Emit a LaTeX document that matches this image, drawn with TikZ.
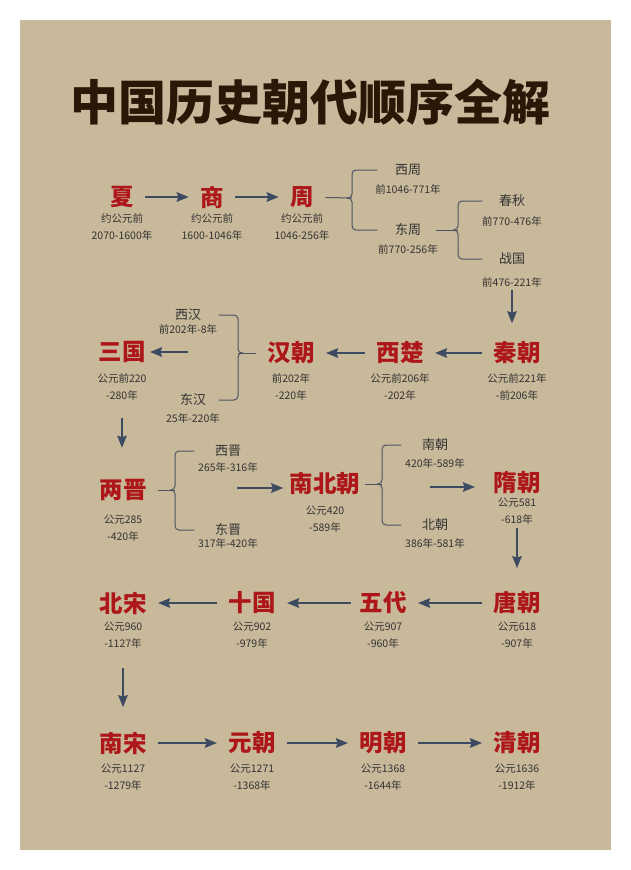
\documentclass[tikz,border=0pt]{standalone}
\usepackage{fontspec}
\setmainfont{Noto Sans CJK SC}
\usetikzlibrary{arrows.meta,calc}

\definecolor{paper}{HTML}{C9B99B}
\definecolor{dynred}{HTML}{AE1719}
\definecolor{titlebrown}{HTML}{2A1707}
\definecolor{arrowblue}{HTML}{3C4A62}
\definecolor{bracegray}{HTML}{4C5564}
\definecolor{datetext}{HTML}{333333}

\tikzset{
  heading/.style={font=\fontsize{48}{52}\selectfont\bfseries, text=titlebrown},
  dynasty/.style={font=\fontsize{23.5}{26}\selectfont\bfseries, text=dynred},
  years/.style={font=\fontsize{10.5}{17}\selectfont, text=datetext, align=center},
  branch/.style={font=\fontsize{13}{15}\selectfont, text=datetext},
  flow/.style={->, line width=2pt, draw=arrowblue, shorten <=8pt, shorten >=8pt},
  brace/.style={line width=1pt, draw=bracegray, rounded corners=4pt},
}

\begin{document}
\begin{tikzpicture}[x=1pt,y=-1pt,>={Stealth[length=12pt,width=9.5pt,inset=1.5pt]}]
  \useasboundingbox (0,0) rectangle (631,870);
  \fill[paper] (20,20) rectangle (611,850);

  % Title
  \node[heading] (title) at (310,102) {中国历史朝代顺序全解};

  % Row 1: Xia - Shang - Zhou
  \node[dynasty] (xia) at (122,197) {夏};
  \node[years] (xia-y) at (122,226.5) {约公元前\\2070-1600年};
  \node[dynasty] (shang) at (212,197) {商};
  \node[years] (shang-y) at (212,226.5) {约公元前\\1600-1046年};
  \node[dynasty] (zhou) at (302,197) {周};
  \node[years] (zhou-y) at (302,226.5) {约公元前\\1046-256年};
  \node[branch] (xizhou) at (408,170) {西周};
  \node[years] (xizhou-y) at (408,189) {前1046-771年};
  \node[branch] (dongzhou) at (408,230) {东周};
  \node[years] (dongzhou-y) at (408,249) {前770-256年};
  \node[branch] (chunqiu) at (512,201) {春秋};
  \node[years] (chunqiu-y) at (512,221) {前770-476年};
  \node[branch] (zhanguo) at (512,259) {战国};
  \node[years] (zhanguo-y) at (512,282) {前476-221年};

  \draw[flow] (xia) -- (shang);
  \draw[flow] (shang) -- (zhou);
  \coordinate (zhou-br) at (352,198);
  \draw[brace, shorten <=8pt] (zhou) -- (zhou-br);
  \draw[brace] ([xshift=-14pt]xizhou.west) -| (zhou-br) -- ++(-5,0);
  \draw[brace] ([xshift=-14pt]dongzhou.west) -| (zhou-br) -- ++(-5,0);
  \coordinate (dongzhou-br) at (458,230);
  \draw[brace, shorten <=11pt] (dongzhou) -- (dongzhou-br);
  \draw[brace] ([xshift=-13pt]chunqiu.west) -| (dongzhou-br) -- ++(-5,0);
  \draw[brace] ([xshift=-13pt]zhanguo.west) -| (dongzhou-br) -- ++(-5,0);

  % Row 2: Qin - Xichu - Han - Sanguo
  \node[dynasty] (qin) at (517,353) {秦朝};
  \node[years] (qin-y) at (517,387) {公元前221年\\-前206年};
  \node[dynasty] (xichu) at (400,353) {西楚};
  \node[years] (xichu-y) at (400,387) {公元前206年\\-202年};
  \node[dynasty] (han) at (291,353) {汉朝};
  \node[years] (han-y) at (291,387) {前202年\\-220年};
  \node[branch] (xihan) at (188,315) {西汉};
  \node[years] (xihan-y) at (188,329) {前202年-8年};
  \node[branch] (donghan) at (193,400) {东汉};
  \node[years] (donghan-y) at (193,418) {25年-220年};
  \node[dynasty] (sanguo) at (122,352) {三国};
  \node[years] (sanguo-y) at (122,387) {公元前220\\-280年};

  \draw[flow, shorten <=0pt, shorten >=15pt] (zhanguo-y.south) -- (zhanguo-y.south |- qin.north);
  \draw[flow] (qin) -- (xichu);
  \draw[flow] (xichu) -- (han);
  \coordinate (han-br) at (238,353);
  \draw[brace, shorten <=8pt] (han) -- (han-br);
  \draw[brace] ([xshift=14pt]xihan.east) -| (han-br) -- ++(5,0);
  \draw[brace] ([xshift=9pt]donghan.east) -| (han-br) -- ++(5,0);
  \coordinate (han-out) at (188,352);
  \draw[flow, shorten <=0pt, shorten >=1pt] (han-out) -- (han-out -| sanguo.east);

  % Row 3: Liangjin - Nanbeichao - Sui
  \node[dynasty] (liangjin) at (123,490) {两晋};
  \node[years] (liangjin-y) at (123,528) {公元285\\-420年};
  \node[branch] (xijin) at (228,451) {西晋};
  \node[years] (xijin-y) at (228,467) {265年-316年};
  \node[branch] (dongjin) at (228,530) {东晋};
  \node[years] (dongjin-y) at (228,543) {317年-420年};
  \node[dynasty] (nanbei) at (325,484) {南北朝};
  \node[years] (nanbei-y) at (325,519.5) {公元420\\-589年};
  \node[branch] (nanchao) at (435,445) {南朝};
  \node[years] (nanchao-y) at (435,463) {420年-589年};
  \node[branch] (beichao) at (435,525) {北朝};
  \node[years] (beichao-y) at (435,543) {386年-581年};
  \node[dynasty] (sui) at (517,483) {隋朝};
  \node[years] (sui-y) at (517,511) {公元581\\-618年};

  \draw[flow, shorten <=14pt, shorten >=28pt] (sanguo-y.south) -- (sanguo-y.south |- liangjin.north);
  \coordinate (liangjin-br) at (175,490);
  \draw[brace, shorten <=8pt] (liangjin) -- (liangjin-br);
  \draw[brace] ([xshift=-17pt]xijin.west) -| (liangjin-br) -- ++(-5,0);
  \draw[brace] ([xshift=-17pt]dongjin.west) -| (liangjin-br) -- ++(-5,0);
  \coordinate (jin-out) at (237,488);
  \draw[flow, shorten <=0pt, shorten >=3pt] (jin-out) -- (jin-out -| nanbei.west);
  \coordinate (nanbei-br) at (382,484);
  \draw[brace, shorten <=1pt] (nanbei) -- (nanbei-br);
  \draw[brace] ([xshift=-17pt]nanchao.west) -| (nanbei-br) -- ++(-5,0);
  \draw[brace] ([xshift=-17pt]beichao.west) -| (nanbei-br) -- ++(-5,0);
  \coordinate (nanbei-out) at (430,487);
  \draw[flow, shorten <=0pt, shorten >=15pt] (nanbei-out) -- (nanbei-out -| sui.west);

  % Row 4: Tang - Wudai - Shiguo - Beisong
  \node[dynasty] (tang) at (517,603) {唐朝};
  \node[years] (tang-y) at (517,635) {公元618\\-907年};
  \node[dynasty] (wudai) at (383,603) {五代};
  \node[years] (wudai-y) at (383,635) {公元907\\-960年};
  \node[dynasty] (shiguo) at (252,603) {十国};
  \node[years] (shiguo-y) at (252,635) {公元902\\-979年};
  \node[dynasty] (beisong) at (123,603) {北宋};
  \node[years] (beisong-y) at (123,635) {公元960\\-1127年};

  \draw[flow, shorten <=0pt, shorten >=20pt] (sui-y.south) -- (sui-y.south |- tang.north);
  \draw[flow] (tang) -- (wudai);
  \draw[flow, shorten <=5pt] (wudai) -- (shiguo);
  \draw[flow] (shiguo) -- (beisong);

  % Row 5: Nansong - Yuan - Ming - Qing
  \node[dynasty] (nansong) at (123,743) {南宋};
  \node[years] (nansong-y) at (123,777.5) {公元1127\\-1279年};
  \node[dynasty] (yuan) at (252,743) {元朝};
  \node[years] (yuan-y) at (252,777.5) {公元1271\\-1368年};
  \node[dynasty] (ming) at (383,743) {明朝};
  \node[years] (ming-y) at (383,777.5) {公元1368\\-1644年};
  \node[dynasty] (qing) at (517,743) {清朝};
  \node[years] (qing-y) at (517,777.5) {公元1636\\-1912年};

  \draw[flow, shorten <=16pt, shorten >=21pt] (beisong-y.south) -- (beisong-y.south |- nansong.north);
  \draw[flow] (nansong) -- (yuan);
  \draw[flow] (yuan) -- (ming);
  \draw[flow] (ming) -- (qing);
\end{tikzpicture}
\end{document}
